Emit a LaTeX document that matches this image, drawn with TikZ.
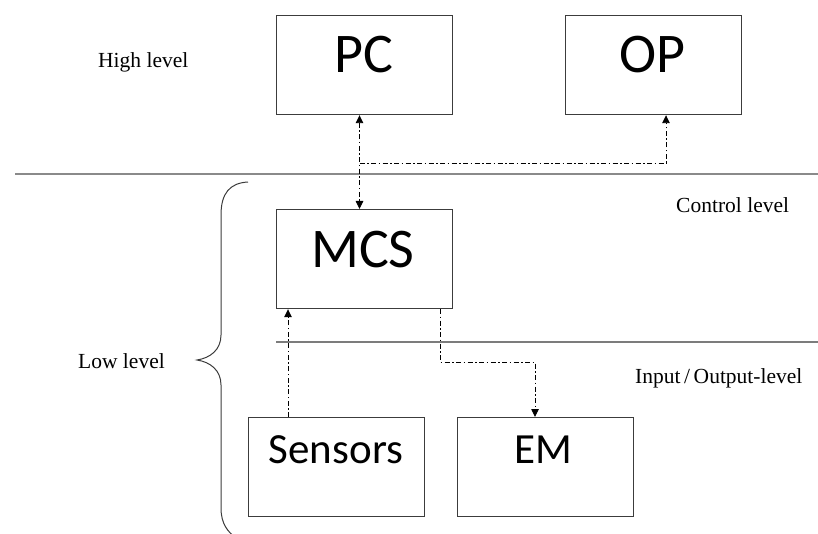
\documentclass[tikz,border=0pt]{standalone}
\usepackage{fontspec}
\setmainfont{Liberation Serif}
\newfontfamily\boxfont{Carlito}
\usetikzlibrary{arrows.meta,calc}
\definecolor{boxline}{HTML}{3C3C3C}
\definecolor{sepline}{HTML}{8A8A8A}
\tikzset{
  blk/.style={draw=boxline, line width=1.2pt, minimum width=176pt, minimum height=99pt, inner sep=0pt, anchor=north west},
  bigtxt/.style={font=\boxfont\fontsize{56}{60}\selectfont, inner sep=0pt, anchor=base},
  midtxt/.style={font=\boxfont\fontsize{43}{47}\selectfont, inner sep=0pt, anchor=base},
  lvl/.style={font=\fontsize{21.5}{24}\selectfont, inner sep=0pt, anchor=base west},
  conn/.style={line width=0.9pt, black, dash pattern=on 5pt off 2.5pt on 1.5pt off 2.5pt},
  tip/.style={-{Triangle[length=8pt,width=7.5pt]}},
  sep/.style={draw=sepline, line width=1.8pt},
  sep2/.style={draw=sepline!90!black, line width=1.3pt},
}
\begin{document}
\begin{tikzpicture}[x=1pt,y=-1pt]
\useasboundingbox (0,0) rectangle (818,534);
% separator lines
\draw[sep] (15,174) -- (818,174);
\draw[sep2] (276,342) -- (818,342);
% boxes
\node[blk] (PC) at (275.5,15) {};
\node[blk] (OP) at (565,15) {};
\node[blk] (MCS) at (276,209) {};
\node[blk] (SEN) at (248,417) {};
\node[blk] (EM) at (457,417) {};
% box texts
\node[bigtxt] (PCt) at (364,73) {PC};
\node[bigtxt] (OPt) at (652,73) {OP};
\node[bigtxt] (MCSt) at (363,268) {MCS};
\node[midtxt] (SENt) at (336,463) {Sensors};
\node[midtxt] (EMt) at (543,463) {EM};
% level labels
\node[lvl] (hl) at (98,68) {High level};
\node[lvl] (cl) at (676,213) {Control level};
\node[lvl] (io) at (635,383) {Input\,/\,Output-level};
\node[lvl] (ll) at (78,368) {Low level};
% connectors
\coordinate (j1) at (359.5,163);
\coordinate (j2) at (666,163);
\draw[conn, {Triangle[length=8pt,width=7.5pt]}-{Triangle[length=8pt,width=7.5pt]}] (PC.south -| j1) -- (MCS.north -| j1);
\draw[conn, tip] (j1) -- (j2) -- (OP.south -| j2);
\coordinate (s1) at (288,417);
\draw[conn, tip] (SEN.north -| s1) -- (MCS.south -| s1);
\coordinate (m1) at (440,362);
\coordinate (m2) at (535,362);
\draw[conn, tip] (MCS.south -| m1) -- (m1) -- (m2) -- (EM.north -| m2);
% brace
\draw[boxline, line width=1pt] (248,182) .. controls (230,183) and (221,193) .. (221,215) -- (221,335)
  .. controls (221,350) and (210,358) .. (197,360)
  .. controls (210,362) and (221,370) .. (221,385) -- (221,508)
  .. controls (221,524) and (228,532) .. (236,538);
\end{tikzpicture}
\end{document}
